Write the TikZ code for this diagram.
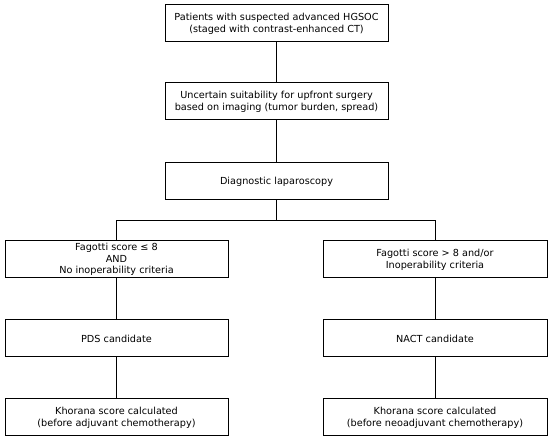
\documentclass[tikz,border=0pt]{standalone}
\usepackage{fontspec}
\setmainfont{DejaVu Sans}
\begin{document}
\begin{tikzpicture}[x=1pt,y=-1pt,
  box/.style={draw,line width=1pt,minimum width=223pt,minimum height=37pt,inner sep=0pt,align=center,font=\fontsize{9.7}{11.8}\selectfont},
  link/.style={line width=0.8pt}]
\useasboundingbox (0,0) rectangle (550,441);
\node[box] (a) at (276.5,23.5) {Patients with suspected advanced HGSOC\\(staged with contrast-enhanced CT)};
\node[box] (b) at (276.5,101.5) {Uncertain suitability for upfront surgery\\based on imaging (tumor burden, spread)};
\node[box] (c) at (276.5,181.5) {Diagnostic laparoscopy};
\node[box] (l1) at (116.5,259.5) {Fagotti score ≤ 8\\AND\\No inoperability criteria};
\node[box,minimum width=224pt] (r1) at (435,259.5) {Fagotti score > 8 and/or\\Inoperability criteria};
\node[box] (l2) at (116.5,338.5) {PDS candidate};
\node[box,minimum width=224pt] (r2) at (435,338.5) {NACT candidate};
\node[box] (l3) at (116.5,417.5) {Khorana score calculated\\(before adjuvant chemotherapy)};
\node[box,minimum width=224pt] (r3) at (435,417.5) {Khorana score calculated\\(before neoadjuvant chemotherapy)};
\coordinate (j) at (276.5,220);
\draw[link] (a) -- (b);
\draw[link] (b) -- (c);
\draw[link] (c) -- (j);
\draw[link] (j) -| (l1);
\draw[link] (j) -| (r1);
\draw[link] (l1) -- (l2);
\draw[link] (l2) -- (l3);
\draw[link] (r1) -- (r2);
\draw[link] (r2) -- (r3);
\end{tikzpicture}
\end{document}
